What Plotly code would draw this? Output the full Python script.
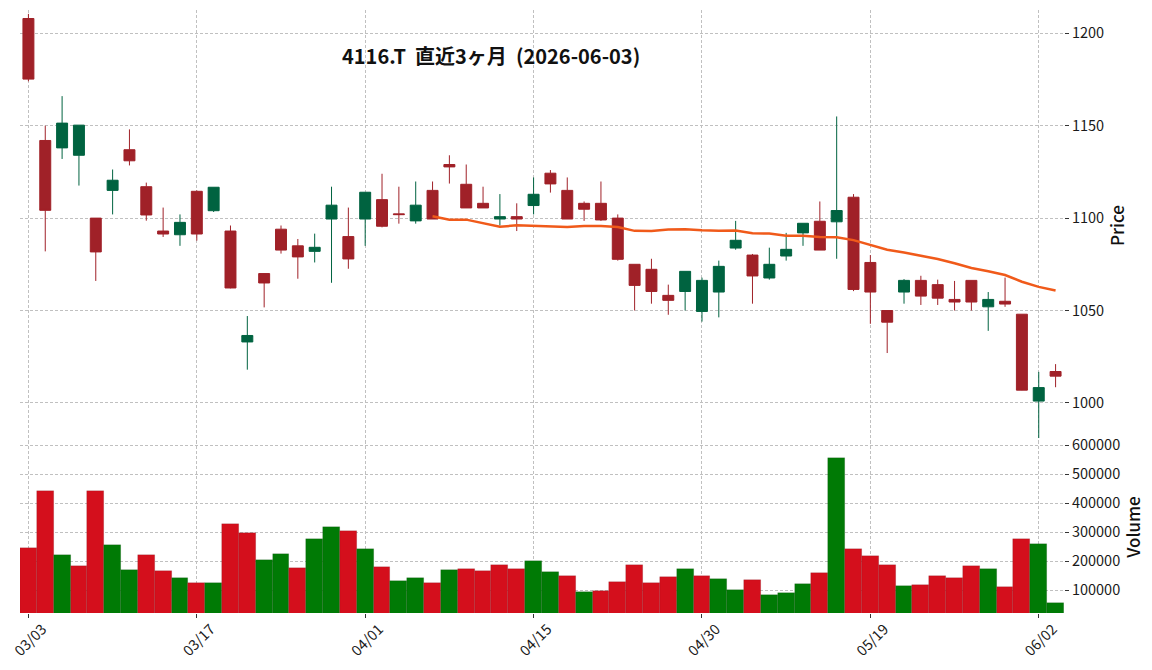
import pandas as pd
import plotly.graph_objects as go

# ---------------- data ----------------
dates = [
    "2026-03-03", "2026-03-04", "2026-03-05", "2026-03-06", "2026-03-09", "2026-03-10",
    "2026-03-11", "2026-03-12", "2026-03-13", "2026-03-16", "2026-03-17", "2026-03-18",
    "2026-03-19", "2026-03-23", "2026-03-24", "2026-03-25", "2026-03-26", "2026-03-27",
    "2026-03-30", "2026-03-31", "2026-04-01", "2026-04-02", "2026-04-03", "2026-04-06",
    "2026-04-07", "2026-04-08", "2026-04-09", "2026-04-10", "2026-04-13", "2026-04-14",
    "2026-04-15", "2026-04-16", "2026-04-17", "2026-04-20", "2026-04-21", "2026-04-22",
    "2026-04-23", "2026-04-24", "2026-04-27", "2026-04-28", "2026-04-30", "2026-05-01",
    "2026-05-07", "2026-05-08", "2026-05-11", "2026-05-12", "2026-05-13", "2026-05-14",
    "2026-05-15", "2026-05-18", "2026-05-19", "2026-05-20", "2026-05-21", "2026-05-22",
    "2026-05-25", "2026-05-26", "2026-05-27", "2026-05-28", "2026-05-29", "2026-06-01",
    "2026-06-02", "2026-06-03",
]

open_ = [1208, 1142, 1138, 1134, 1100, 1115, 1137, 1117, 1093, 1091,
         1114.5, 1104, 1093, 1033, 1070, 1094, 1085, 1082, 1099.5, 1090,
         1099.5, 1110, 1102.3, 1098.5, 1115, 1129, 1118.3, 1108, 1099.5, 1100.8,
         1106.8, 1124.3, 1115, 1108, 1108, 1100, 1075, 1072.3, 1058.2, 1060.3,
         1049.5, 1060, 1083.8, 1080, 1067.6, 1079.5, 1092, 1098.3, 1098, 1111.3,
         1076, 1050, 1060, 1066.3, 1064, 1056, 1066.3, 1052, 1055, 1048,
         1001, 1017]
high = [1210.5, 1150, 1166, 1150.3, 1100, 1126.3, 1148, 1119.2, 1105.7, 1102,
        1115, 1116.7, 1096, 1047, 1070.1, 1096, 1088.7, 1091.6, 1117, 1105.7,
        1114, 1124, 1117, 1119.8, 1119.8, 1134, 1129, 1117, 1113, 1108,
        1122, 1126, 1122, 1109, 1119.8, 1102, 1075, 1078, 1064, 1071.2,
        1067.8, 1077, 1098.5, 1080.6, 1084, 1092, 1097.2, 1109, 1155, 1113,
        1080, 1050, 1067, 1068.8, 1066.7, 1066, 1066.3, 1060, 1067.8, 1048,
        1016.8, 1021]
low = [1174, 1082, 1132, 1117.6, 1066, 1102, 1128.5, 1098.6, 1089.8, 1085,
       1087.8, 1103.3, 1062, 1018, 1051.7, 1080.8, 1067.2, 1076, 1065, 1072.6,
       1085, 1095, 1097, 1097, 1099.5, 1118.7, 1105.5, 1105.5, 1096, 1093,
       1102, 1113.8, 1099.5, 1098.5, 1098.5, 1077, 1050, 1053.7, 1047.7, 1050,
       1044, 1046.3, 1082.9, 1053.7, 1066.7, 1077, 1085, 1082.7, 1078, 1060.5,
       1042.8, 1027, 1053.7, 1053, 1053, 1050, 1050, 1039, 1052, 1007,
       981, 1008.5]
close = [1175.2, 1104.2, 1151.4, 1150.3, 1081.7, 1120.5, 1131, 1101.7, 1091.4, 1097.7,
         1091.4, 1116.7, 1062.2, 1036.5, 1064.9, 1082.7, 1079, 1084.2, 1107, 1077.9,
         1114, 1095.6, 1101.9, 1107, 1099.5, 1127.7, 1105.5, 1105.5, 1100.8, 1099.5,
         1112.9, 1118.5, 1099.5, 1104.8, 1099, 1077.7, 1063.6, 1060.3, 1055.5, 1071.2,
         1066.3, 1073.9, 1088, 1068.7, 1075, 1083.1, 1097.2, 1082.7, 1104.1, 1061.4,
         1060, 1043.7, 1066.3, 1057.8, 1056.7, 1054.6, 1054.6, 1056, 1053.5, 1006.9,
         1008.3, 1014.5]
volume = [246000, 442500, 221800, 183900, 442500, 256300, 170100, 221800, 166700, 142500,
          125300, 125300, 328700, 297700, 204600, 225300, 177000, 277000, 318400, 304600,
          242500, 180500, 132200, 142500, 125300, 170100, 173600, 166700, 187400, 173600,
          201100, 163200, 149400, 94300, 97700, 128700, 187400, 125300, 146000, 173600,
          149400, 139100, 101100, 135600, 83900, 90800, 121800, 159800, 556300, 242500,
          218400, 187400, 114900, 118400, 149400, 142500, 183900, 173600, 111500, 277000,
          259800, 56300]

ma_window = 25
tick_index = [0, 10, 20, 30, 40, 50, 60]
price_ticks = [1000, 1050, 1100, 1150, 1200]
volume_ticks = [100000, 200000, 300000, 400000, 500000, 600000]
title_text = "4116.T  直近3ヶ月  (2026-06-03)"

# ---------------- derived ----------------
x = list(range(len(dates)))
ma = pd.Series(close).rolling(ma_window).mean()
vol_colors = ["#007a05" if i > 0 and close[i] > close[i - 1] else "#d40f1c"
              for i in range(len(close))]
tick_text = [pd.Timestamp(dates[i]).strftime("%m/%d") for i in tick_index]

FONT = "Noto Sans CJK JP"
W, H = 1152, 670
xdom = [20 / W, 1064 / W]
price_dom = [1 - 441 / H, 1 - 10 / H]
vol_dom = [1 - 613 / H, 1 - 441 / H]
GRID = "#c0c0c0"

fig = go.Figure()
fig.add_trace(go.Candlestick(
    x=x, open=open_, high=high, low=low, close=close,
    increasing=dict(fillcolor="#006340", line=dict(color="#006340", width=1)),
    decreasing=dict(fillcolor="#a02128", line=dict(color="#a02128", width=1)),
    xaxis="x2", yaxis="y", showlegend=False, name="4116.T",
))
fig.add_trace(go.Scatter(
    x=x, y=ma, mode="lines", line=dict(color="#f05a1a", width=2.5),
    xaxis="x2", yaxis="y", showlegend=False, name="MA25",
))
fig.add_trace(go.Bar(
    x=x, y=volume, marker=dict(color=vol_colors, line=dict(color="rgba(0,0,0,0.18)", width=0.6)),
    width=1.0, xaxis="x", yaxis="y2", showlegend=False, name="Volume",
))

axis_font = dict(family=FONT, size=14.5, color="#1a1a1a")
grid_common = dict(showgrid=True, gridcolor=GRID, griddash="3px,2px", gridwidth=0.8,
                   zeroline=False, showline=False, automargin=False)
fig.update_layout(
    width=W, height=H,
    margin=dict(l=0, r=0, t=0, b=0, autoexpand=False),
    paper_bgcolor="white", plot_bgcolor="white",
    font=dict(family=FONT),
    boxgap=0.07, boxgroupgap=0.3, bargap=0,
    xaxis=dict(
        domain=xdom, anchor="y2", range=[-0.5, len(x) - 0.5],
        tickmode="array", tickvals=tick_index, ticktext=tick_text, tickangle=-45,
        ticklabelshift=14, ticklabelstandoff=-3,
        ticks="outside", ticklen=4, tickcolor="#333", tickfont=axis_font,
        rangeslider=dict(visible=False), **grid_common,
    ),
    xaxis2=dict(
        domain=xdom, anchor="y", matches="x", range=[-0.5, len(x) - 0.5],
        tickmode="array", tickvals=tick_index, showticklabels=False, ticks="",
        rangeslider=dict(visible=False), **grid_common,
    ),
    yaxis=dict(
        domain=price_dom, anchor="x2", side="right", range=[979.4, 1212.6],
        tickmode="array", tickvals=price_ticks, ticks="outside", ticklen=4,
        tickcolor="#333", tickfont=axis_font,
        title=dict(text="Price", font=dict(family=FONT, size=17, color="#111", weight=500), standoff=8),
        **grid_common,
    ),
    yaxis2=dict(
        domain=vol_dom, anchor="x", side="right", range=[21700, 614800],
        tickmode="array", tickvals=volume_ticks, tickformat="d", ticks="outside", ticklen=4,
        tickcolor="#333", tickfont=axis_font,
        title=dict(text="Volume", font=dict(family=FONT, size=17, color="#111", weight=500), standoff=6),
        **grid_common,
    ),
    annotations=[dict(
        text="<b>" + title_text + "</b>", xref="paper", yref="paper",
        x=491 / W, y=1 - 55 / H, xanchor="center", yanchor="middle", showarrow=False,
        font=dict(family=FONT, size=20, color="#111"),
    )],
)

fig.write_html("out.html")
